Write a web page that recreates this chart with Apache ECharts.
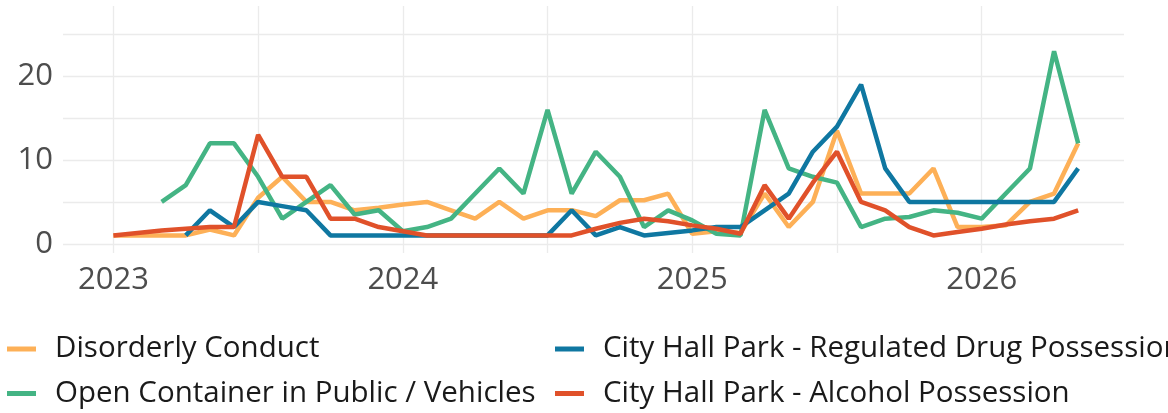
<!DOCTYPE html>
<html>
<head>
<meta charset="utf-8">
<script src="https://cdn.jsdelivr.net/npm/echarts@6/dist/echarts.min.js"></script>
<style>
  html, body { margin: 0; padding: 0; background: #fff; }
  #chart { width: 1168px; height: 413px; }
</style>
</head>
<body>
<div id="chart"></div>
<script>
// monthly counts, Jan 2023 - May 2026
var months = [
  '2023-01','2023-02','2023-03','2023-04','2023-05','2023-06','2023-07','2023-08','2023-09','2023-10','2023-11','2023-12',
  '2024-01','2024-02','2024-03','2024-04','2024-05','2024-06','2024-07','2024-08','2024-09','2024-10','2024-11','2024-12',
  '2025-01','2025-02','2025-03','2025-04','2025-05','2025-06','2025-07','2025-08','2025-09','2025-10','2025-11','2025-12',
  '2026-01','2026-02','2026-03','2026-04','2026-05'
];
var disorderly = [1,1,1,1,1.7,1,5.5,8,5,5, 4,4.3,4.7,5,4,3,5,3,4,4, 3.3,5.2,5.2,6,1.2,1.5,1.3,6,2,5, 13.5,6,6,6,9,2,2,2.2,5,6, 12];
var openContainer = [null,null,5,7,12,12,8,3,5,7, 3.5,4,1.5,2,3,6,9,6,16,6, 11,8,2,4,2.8,1.2,1,16,9,8, 7.3,2,3,3.2,4,3.7,3,6,9,23, 12];
var drugPossession = [null,null,null,1,4,2,5,4.5,4,1, 1,1,1,1,1,1,1,1,1,4, 1,2,1,1.3,1.6,2,2,4,6,11, 14,19,9,5,5,5,5,5,5,5, 9];
var alcoholPossession = [1,1.3,1.6,1.8,2,2,13,8,8,3, 3,2,1.5,1,1,1,1,1,1,1, 1.8,2.5,3,2.7,2.2,1.8,1.2,7,3,7.3, 11,5,4,2,1,1.4,1.8,2.3,2.7,3, 4];

// x axis counted in months from Jan 2023
var yearTicks = [0, 12, 24, 36];
var xGridTicks = [0, 6, 12, 18, 24, 30, 36];
var yLabelTicks = [0, 10, 20];
var yGridTicks = [0, 5, 10, 15, 20, 25];

var names = [
  'Disorderly Conduct',
  'Open Container in Public / Vehicles',
  'City Hall Park - Regulated Drug Possession',
  'City Hall Park - Alcohol Possession'
];
var colors = ['#fdb057', '#44b484', '#0f77a1', '#e0512a'];
var values = [disorderly, openContainer, drugPossession, alcoholPossession];

function monthIndex(m) {
  var p = m.split('-');
  return (+p[0] - 2023) * 12 + (+p[1] - 1);
}
function toPairs(vals) {
  return months.map(function (m, i) { return [monthIndex(m), vals[i]]; });
}

var chart = echarts.init(document.getElementById('chart'));
var font = 'Open Sans';
var legendText = { fontFamily: font, fontSize: 29.5, color: '#1a1a1a', lineHeight: 30, padding: [0, 0, 0, 14] };

var option = {
  animation: false,
  grid: { left: 63, right: 44, top: 6, bottom: 160 },
  xAxis: {
    type: 'value',
    min: -2.09,
    max: 41.9,
    axisLine: { show: false },
    axisTick: { show: false, customValues: xGridTicks },
    axisLabel: {
      customValues: yearTicks,
      fontFamily: font,
      fontSize: 31,
      color: '#4d4d4d',
      margin: 12,
      formatter: function (v) { return String(2023 + Math.round(v / 12)); }
    },
    splitLine: { show: true, lineStyle: { color: '#ebebeb', width: 1.3 } }
  },
  yAxis: {
    type: 'value',
    min: -1.1,
    max: 28.4,
    axisLine: { show: false },
    axisTick: { show: false, customValues: yGridTicks },
    axisLabel: {
      customValues: yLabelTicks,
      fontFamily: font,
      fontSize: 31,
      color: '#4d4d4d',
      margin: 10
    },
    splitLine: { show: true, lineStyle: { color: '#ebebeb', width: 1.3 } }
  },
  legend: [
    {
      orient: 'vertical', left: 7, top: 334, itemGap: 14.5, padding: 0,
      itemWidth: 29, itemHeight: 5, icon: 'rect',
      textStyle: legendText,
      data: [names[0], names[1]]
    },
    {
      orient: 'vertical', left: 555, top: 334, itemGap: 14.5, padding: 0,
      itemWidth: 29, itemHeight: 5, icon: 'rect',
      textStyle: legendText,
      data: [names[2], names[3]]
    }
  ],
  series: values.map(function (vals, k) {
    return {
      name: names[k],
      type: 'line',
      data: toPairs(vals),
      showSymbol: false,
      color: colors[k],
      lineStyle: { width: 4.5, color: colors[k] },
      emphasis: { disabled: true }
    };
  })
};
chart.setOption(option);
</script>
</body>
</html>
